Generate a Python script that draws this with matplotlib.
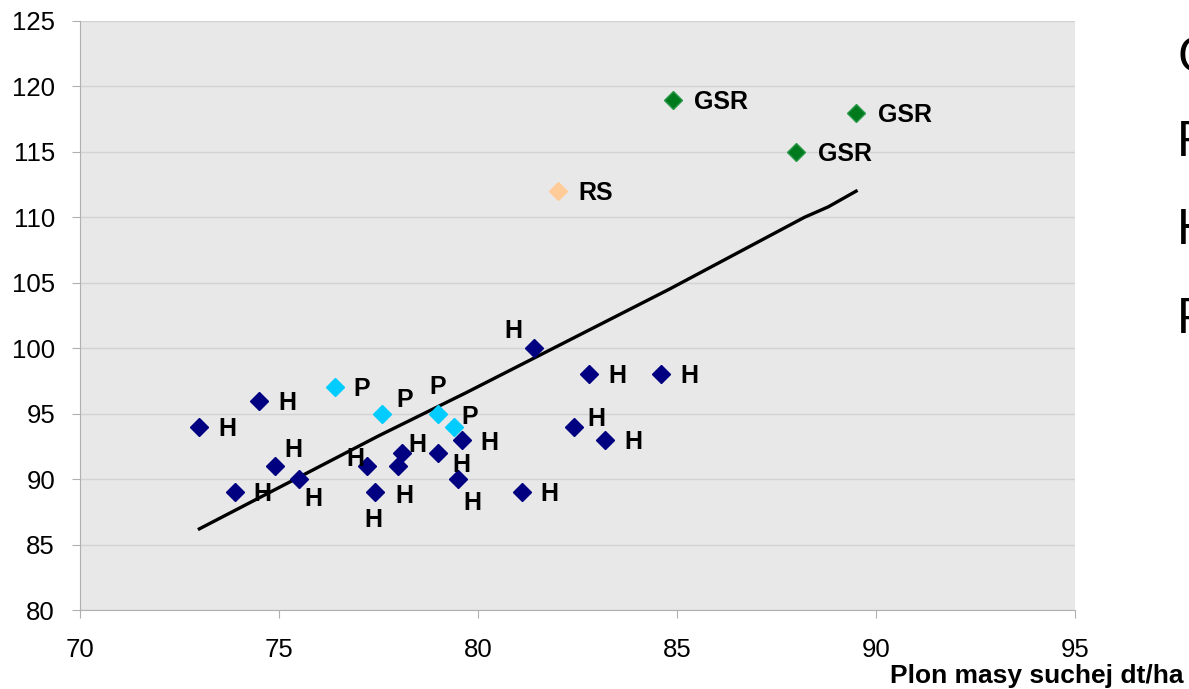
import matplotlib
matplotlib.use("Agg")
import matplotlib.pyplot as plt

plt.rcParams['font.family'] = ['Liberation Sans', 'DejaVu Sans']

# hybrids (H)
h_x = [73.0, 74.5, 73.9, 74.9, 75.5, 77.2, 77.4, 78.0, 78.1, 79.0, 79.6, 79.5, 81.1, 81.4, 82.4, 82.8, 83.2, 84.6]
h_y = [94, 96, 89, 91, 90, 91, 89, 91, 92, 92, 93, 90, 89, 100, 94, 98, 93, 98]
# P
p_x = [76.4, 77.6, 79.0, 79.4]
p_y = [97, 95, 95, 94]
# GSR
g_x = [84.9, 89.5, 88.0]
g_y = [119, 118, 115]
# RS
rs_x = [82.0]
rs_y = [112]

# trend line
t_x = [73.0, 77.5, 79.7, 84.8, 88.2, 88.8, 89.5]
t_y = [86.2, 93.3, 96.6, 104.5, 110.0, 110.8, 112.0]

# label offsets (pixels, centre of label relative to marker)
h_off = [(28, 2), (28, 2), (27, 2), (18, -16), (14, 20), (-11, -7), (-1, 28), (6, 30), (15, -8),
         (23, 12), (27, 3), (14, 24), (28, 2), (-20, -17), (23, -8), (28, 2), (28, 2), (28, 2)]
p_off = [(27, 2), (22, -14), (-1, -27), (16, -10)]
g_off = [(48, 2), (49, 2), (49, 2)]
rs_off = [(38, 2)]

fig = plt.figure(figsize=(11.89, 6.89), dpi=100)
ax = fig.add_axes([80/1189, 1-610/689, (1075-80)/1189, (610-21)/689])
ax.set_facecolor('#e8e8e8')

ax.plot(t_x, t_y, color='black', lw=2.4, zorder=2)

ms = 9.5
ax.plot(h_x, h_y, 'D', color='#000080', ms=ms, mec='#000080', zorder=3)
ax.plot(p_x, p_y, 'D', color='#00ccff', ms=ms, mec='#00ccff', zorder=3)
ax.plot(g_x, g_y, 'D', color='#007a1c', ms=ms, mec='#2a9a4a', mew=1, zorder=3)
ax.plot(rs_x, rs_y, 'D', color='#ffcc99', ms=ms, mec='#ffcc99', zorder=3)


def lab(xs, ys, offs, txt):
    for x, y, (dx, dy) in zip(xs, ys, offs):
        ax.annotate(txt, (x, y), xytext=(dx*0.72, -dy*0.72), textcoords='offset points',
                    ha='center', va='center', fontsize=18, fontweight='bold', zorder=4)


lab(h_x, h_y, h_off, 'H')
lab(p_x, p_y, p_off, 'P')
lab(g_x, g_y, g_off, 'GSR')
lab(rs_x, rs_y, rs_off, 'RS')

ax.set_xlim(70, 95)
ax.set_ylim(80, 125)
ax.set_xticks([70, 75, 80, 85, 90, 95])
ax.set_yticks(range(80, 126, 5))
ax.grid(axis='y', color='#d2d2d2', lw=1)
ax.set_axisbelow(True)
for s in ['top', 'right']:
    ax.spines[s].set_visible(False)
for s in ['left', 'bottom']:
    ax.spines[s].set_color('#b0b0b0')
ax.tick_params(axis='both', colors='#b0b0b0', labelcolor='black', labelsize=18.5, length=6, direction='out')
ax.tick_params(axis='x', pad=14)
ax.tick_params(axis='y', pad=12)

fig.text(1183/1189, 1/689, 'Plon masy suchej dt/ha', ha='right', va='bottom',
         fontsize=19, fontweight='bold')

# cut-off legend on the right edge
for yy, t in zip([59, 143, 231, 320], ['GSR', 'RS', 'H', 'P']):
    fig.text(1177/1189, 1-yy/689, t, ha='left', va='center', fontsize=36, color='black')

fig.savefig('out.png', dpi=100)
